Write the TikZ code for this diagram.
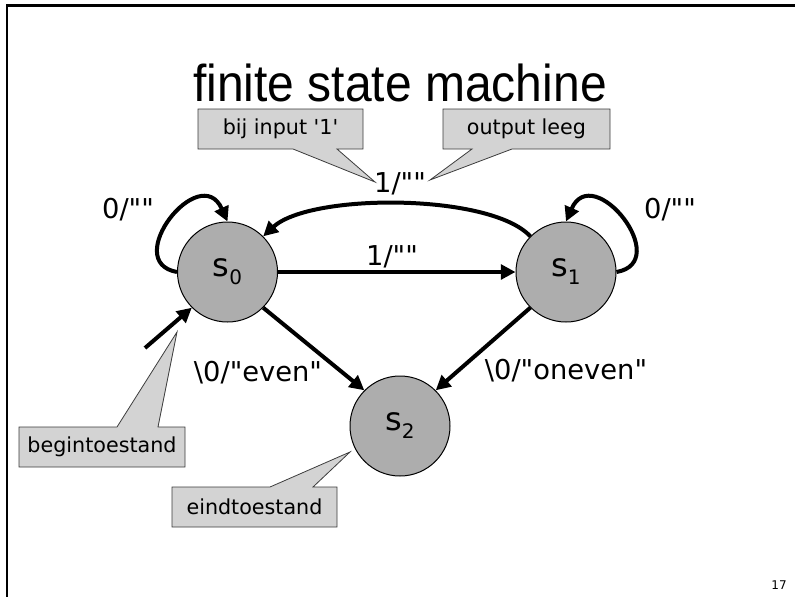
\documentclass[tikz,border=0pt]{standalone}
\usepackage{fontspec}
\setmainfont{DejaVu Sans}
\newfontfamily\titlefont{Liberation Sans}
\usetikzlibrary{arrows.meta}
\definecolor{statefill}{RGB}{173,173,173}
\definecolor{callfill}{RGB}{211,211,211}
\definecolor{callline}{RGB}{60,60,60}
\newcommand{\stlabel}[1]{s\raisebox{-6pt}{\fontsize{15}{18}\selectfont #1}}
\newcommand{\dq}{\textquotedbl}
\begin{document}
\begin{tikzpicture}[x=0.75pt,y=-0.75pt,
  state/.style={circle, draw=black, line width=0.75pt, fill=statefill, minimum size=75pt, inner sep=0pt, font=\fontsize{24}{28}\selectfont},
  edge/.style={line width=3pt, -{Triangle[length=11pt,width=11pt]}},
  lbl/.style={font=\fontsize{20.5}{24}\selectfont, inner sep=0pt},
  callshape/.style={fill=callfill, draw=callline, line width=0.6pt},
  calltext/.style={font=\fontsize{15.5}{18}\selectfont, inner sep=0pt}
]
\useasboundingbox (0,0) rectangle (795,596);
% slide frame
\draw[line width=2pt] (7,600) -- (7,5.5) -- (800,5.5);
% title
\node[anchor=base, font=\titlefont\fontsize{36}{40}\selectfont] (title) at (400,101) {\scalebox{1}[1.08]{finite state machine}};
% states
\node[state] (s0) at (227.5,272) {\stlabel{0}};
\node[state] (s1) at (566,272) {\stlabel{1}};
\node[state] (s2) at (400,426) {\stlabel{2}};
\coordinate (init) at (145,348);
% edges
\draw[edge] (s0.east) -- (s1.west);
\draw[edge] (s1.135) .. controls (490,193) and (310,193) .. (s0.45);
\draw[edge] (s0.180) .. controls (120,262) and (200,160) .. (s0.90);
\draw[edge] (s1.0) .. controls (674,262) and (593,160) .. (s1.90);
\draw[edge] (s0.-45) -- (s2.135);
\draw[edge] (s1.225) -- (s2.45);
\draw[edge] (init) -- (s0.225);
% edge labels
\node[lbl] (l00) at (128,210) {0/\dq\dq};
\node[lbl] (l11) at (670,210) {0/\dq\dq};
\node[lbl] (l10) at (400,184) {1/\dq\dq};
\node[lbl] (l01) at (392,257) {1/\dq\dq};
\node[lbl] (l02) at (258,373) {\textbackslash 0/\dq even\dq};
\node[lbl] (l12) at (566,371) {\textbackslash 0/\dq oneven\dq};
% callouts
\draw[callshape] (198,109) -- (363,109) -- (363,149) -- (337,149) -- (375,182) -- (293,149) -- (198,149) -- cycle;
\node[calltext] (c1) at (280.5,129) {bij input \textquotesingle 1\textquotesingle};
\draw[callshape] (443,109) -- (610,109) -- (610,149) -- (512,149) -- (430,180) -- (472,149) -- (443,149) -- cycle;
\node[calltext] (c2) at (526.5,129) {output leeg};
\draw[callshape] (19,427) -- (117,427) -- (177,332) -- (158,427) -- (185,427) -- (185,467) -- (19,467) -- cycle;
\node[calltext] (c3) at (102,447) {begintoestand};
\draw[callshape] (172,487) -- (270,487) -- (350,452) -- (313,487) -- (337,487) -- (337,527) -- (172,527) -- cycle;
\node[calltext] (c4) at (254.5,507) {eindtoestand};
% page number
\node[font=\fontsize{9}{10}\selectfont, inner sep=0pt] (pg) at (779,585) {17};
\end{tikzpicture}
\end{document}
